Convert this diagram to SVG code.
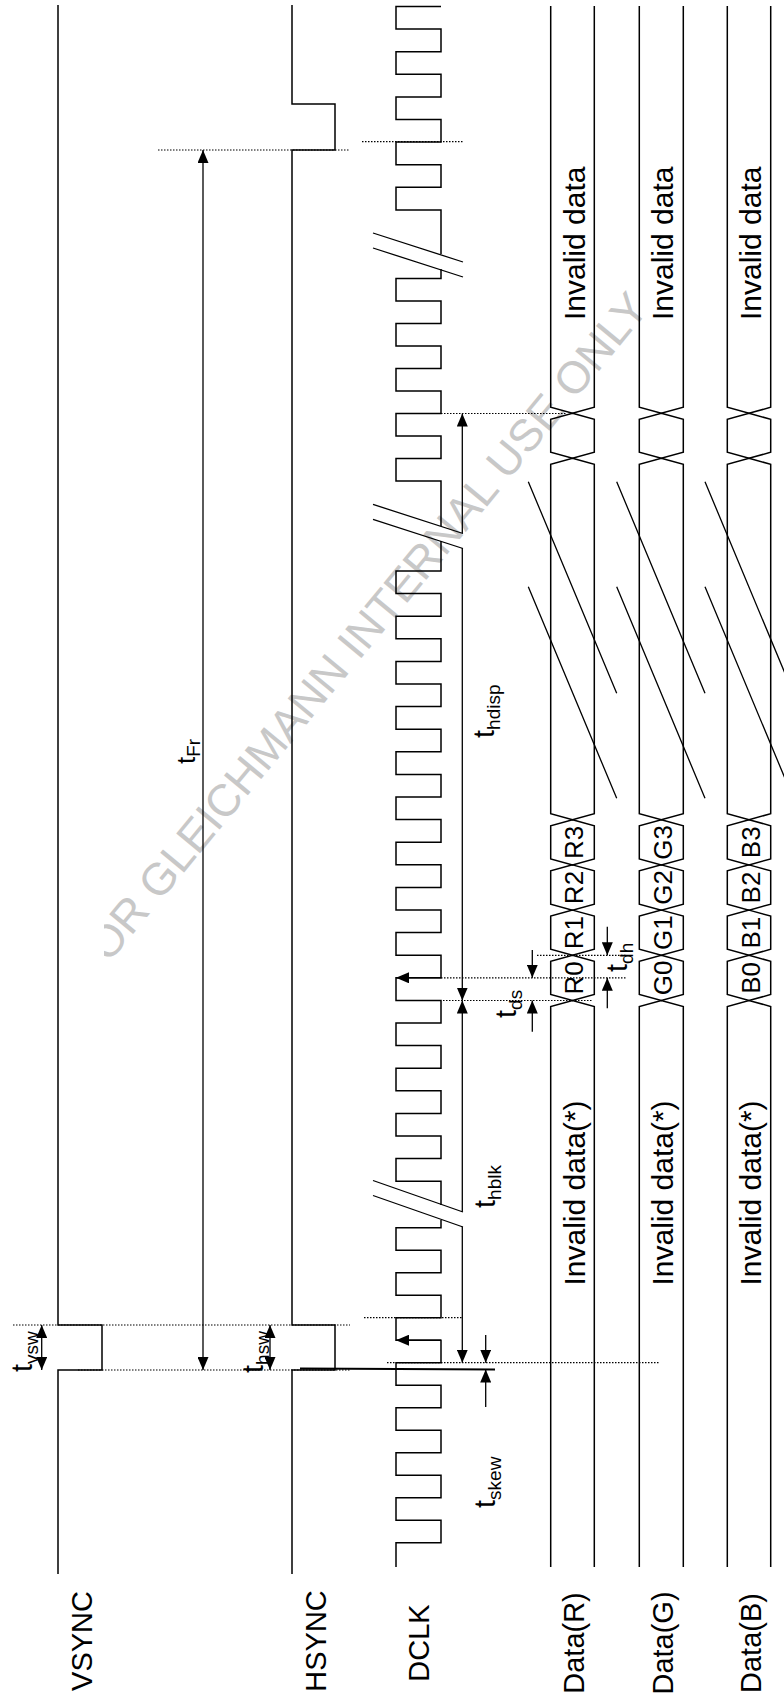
<svg xmlns="http://www.w3.org/2000/svg" width="784" height="1700" viewBox="0 0 784 1700">
<style>
.sig{fill:none;stroke:#000;stroke-width:1.5}
.arr{fill:none;stroke:#000;stroke-width:1.3}
.dot{fill:none;stroke:#000;stroke-width:1.2;stroke-dasharray:1.5 1.5}
.brk{fill:none;stroke:#000;stroke-width:1.3}
.lbl{font-family:"Liberation Sans",Arial,sans-serif;font-size:29px;fill:#000}
.cell{font-family:"Liberation Sans",Arial,sans-serif;font-size:26px;fill:#000}
.sub{font-size:19px}
.wm{font-family:"Liberation Sans",Arial,sans-serif;font-size:45px;fill:#c8c8c8}
</style>
<defs>
<marker id="ah" markerUnits="userSpaceOnUse" markerWidth="13" markerHeight="11" refX="13" refY="5.5" orient="auto-start-reverse">
<path d="M0,0 L13,5.5 L0,11 Z" fill="#000"/>
</marker>
<clipPath id="wmclip"><rect x="104" y="0" width="680" height="1700"/></clipPath>
</defs>
<rect width="784" height="1700" fill="#fff"/>

<g id="watermark" clip-path="url(#wmclip)">
<text class="wm" transform="translate(91,985) rotate(-50.4)">FOR GLEICHMANN INTERNAL USE ONLY</text>
</g>

<g id="vsync">
<path class="sig" d="M58,5 V1325 H102 V1370 H58 V1574"/>
<text class="lbl" text-anchor="middle" transform="translate(92,1641) rotate(-90)">VSYNC</text>
</g>

<g id="hsync">
<path class="sig" d="M292,5 V104 H335 V150 H292 V1325 H335 V1370 H292 V1574"/>
<text class="lbl" text-anchor="middle" transform="translate(326,1641) rotate(-90)">HSYNC</text>
</g>

<g id="dclk">
<path class="sig" d="M441,6.5 H396 V29.1 H441 V51.7 H396 V74.3 H441 V96.9 H396 V119.5 H441 V142.1 H396 V164.7 H441 V187.3 H396 V209.9 H441 V254"/>
<path class="sig" d="M441,269 V278.5 H396 V301 H441 V323.5 H396 V346 H441 V368.5 H396 V391 H441 V413.5 H396 V436 H441 V458.5 H396 V481 H441 V526"/>
<path class="sig" d="M441,541 V571 H396 V593.6 H441 V616.2 H396 V638.8 H441 V661.4 H396 V684 H441 V706.6 H396 V729.2 H441 V751.8 H396 V774.4 H441 V797 H396 V819.6 H441 V842.2 H396 V864.8 H441 V887.4 H396 V910 H441 V932.6 H396 V955.2 H441 V977.8 H396 V1000.4 H441 V1023 H396 V1045.6 H441 V1068.2 H396 V1090.8 H441 V1113.4 H396 V1136 H441 V1158.6 H396 V1181.2 H441 V1205"/>
<path class="sig" d="M441,1220 V1227.7 H396 V1250.2 H441 V1272.7 H396 V1295.2 H441 V1317.7 H396 V1340.2 H441 V1362.7 H396 V1385.2 H441 V1407.7 H396 V1430.2 H441 V1452.7 H396 V1475.2 H441 V1497.7 H396 V1520.2 H441 V1542.7 H396 V1567"/>
<text class="lbl" text-anchor="middle" transform="translate(429,1643) rotate(-90)">DCLK</text>
</g>

<g id="breaks">
<path class="brk" d="M373,233 L463,262 M373,248 L463,277"/>
<path class="brk" d="M373,504.4 L463,533.5 M373,519.4 L463,548.5"/>
<path class="brk" d="M373,1180.5 L463,1212 M373,1195.5 L463,1227"/>
<path class="brk" d="M528.3,481.7 L616.7,693.3 M528.3,586.7 L616.7,798.3"/>
<path class="brk" d="M616.7,481.7 L705,693.3 M616.7,586.7 L705,798.3"/>
<path class="brk" d="M705,481.7 L793.3,693.3 M705,586.7 L793.3,798.3"/>
</g>

<g id="data-r">
<path class="sig" d="M550.7,6 V407.3 L572.5,413.3 L594.3,407.3 V6"/>
<path class="sig" d="M572.5,413.3 L594.3,419.3 V452.3 L572.5,458.3 L550.7,452.3 V419.3 Z"/>
<path class="sig" d="M572.5,458.3 L594.3,464.3 V813.7 L572.5,819.7 L550.7,813.7 V464.3 Z"/>
<path class="sig" d="M572.5,819.7 L594.3,825.7 V858.9 L572.5,864.9 L550.7,858.9 V825.7 Z"/>
<path class="sig" d="M572.5,864.9 L594.3,870.9 V904.1 L572.5,910.1 L550.7,904.1 V870.9 Z"/>
<path class="sig" d="M572.5,910.1 L594.3,916.1 V949.3 L572.5,955.3 L550.7,949.3 V916.1 Z"/>
<path class="sig" d="M572.5,955.3 L594.3,961.3 V994.5 L572.5,1000.5 L550.7,994.5 V961.3 Z"/>
<path class="sig" d="M550.7,1567 V1006.5 L572.5,1000.5 L594.3,1006.5 V1567"/>
<text class="lbl" style="font-size:30px" text-anchor="middle" transform="translate(585,243.3) rotate(-90)">Invalid data</text>
<text class="lbl" style="font-size:30px" text-anchor="middle" transform="translate(585,1193) rotate(-90)">Invalid data(*)</text>
<text class="cell" text-anchor="middle" transform="translate(583,977.9) rotate(-90)">R0</text>
<text class="cell" text-anchor="middle" transform="translate(583,932.7) rotate(-90)">R1</text>
<text class="cell" text-anchor="middle" transform="translate(583,887.5) rotate(-90)">R2</text>
<text class="cell" text-anchor="middle" transform="translate(583,842.3) rotate(-90)">R3</text>
<text class="lbl" text-anchor="middle" transform="translate(584,1643) rotate(-90)">Data(R)</text>
</g>

<g id="data-g">
<path class="sig" d="M639.3,6 V407.3 L661.3,413.3 L683.3,407.3 V6"/>
<path class="sig" d="M661.3,413.3 L683.3,419.3 V452.3 L661.3,458.3 L639.3,452.3 V419.3 Z"/>
<path class="sig" d="M661.3,458.3 L683.3,464.3 V813.7 L661.3,819.7 L639.3,813.7 V464.3 Z"/>
<path class="sig" d="M661.3,819.7 L683.3,825.7 V858.9 L661.3,864.9 L639.3,858.9 V825.7 Z"/>
<path class="sig" d="M661.3,864.9 L683.3,870.9 V904.1 L661.3,910.1 L639.3,904.1 V870.9 Z"/>
<path class="sig" d="M661.3,910.1 L683.3,916.1 V949.3 L661.3,955.3 L639.3,949.3 V916.1 Z"/>
<path class="sig" d="M661.3,955.3 L683.3,961.3 V994.5 L661.3,1000.5 L639.3,994.5 V961.3 Z"/>
<path class="sig" d="M639.3,1567 V1006.5 L661.3,1000.5 L683.3,1006.5 V1567"/>
<text class="lbl" style="font-size:30px" text-anchor="middle" transform="translate(673.3,243.3) rotate(-90)">Invalid data</text>
<text class="lbl" style="font-size:30px" text-anchor="middle" transform="translate(673.3,1193) rotate(-90)">Invalid data(*)</text>
<text class="cell" text-anchor="middle" transform="translate(671.5,977.9) rotate(-90)">G0</text>
<text class="cell" text-anchor="middle" transform="translate(671.5,932.7) rotate(-90)">G1</text>
<text class="cell" text-anchor="middle" transform="translate(671.5,887.5) rotate(-90)">G2</text>
<text class="cell" text-anchor="middle" transform="translate(671.5,842.3) rotate(-90)">G3</text>
<text class="lbl" text-anchor="middle" transform="translate(672.5,1643) rotate(-90)">Data(G)</text>
</g>

<g id="data-b">
<path class="sig" d="M727.3,6 V407.3 L749,413.3 L770.7,407.3 V6"/>
<path class="sig" d="M749,413.3 L770.7,419.3 V452.3 L749,458.3 L727.3,452.3 V419.3 Z"/>
<path class="sig" d="M749,458.3 L770.7,464.3 V813.7 L749,819.7 L727.3,813.7 V464.3 Z"/>
<path class="sig" d="M749,819.7 L770.7,825.7 V858.9 L749,864.9 L727.3,858.9 V825.7 Z"/>
<path class="sig" d="M749,864.9 L770.7,870.9 V904.1 L749,910.1 L727.3,904.1 V870.9 Z"/>
<path class="sig" d="M749,910.1 L770.7,916.1 V949.3 L749,955.3 L727.3,949.3 V916.1 Z"/>
<path class="sig" d="M749,955.3 L770.7,961.3 V994.5 L749,1000.5 L727.3,994.5 V961.3 Z"/>
<path class="sig" d="M727.3,1567 V1006.5 L749,1000.5 L770.7,1006.5 V1567"/>
<text class="lbl" style="font-size:30px" text-anchor="middle" transform="translate(760.7,243.3) rotate(-90)">Invalid data</text>
<text class="lbl" style="font-size:30px" text-anchor="middle" transform="translate(760.7,1193) rotate(-90)">Invalid data(*)</text>
<text class="cell" text-anchor="middle" transform="translate(759.5,977.9) rotate(-90)">B0</text>
<text class="cell" text-anchor="middle" transform="translate(759.5,932.7) rotate(-90)">B1</text>
<text class="cell" text-anchor="middle" transform="translate(759.5,887.5) rotate(-90)">B2</text>
<text class="cell" text-anchor="middle" transform="translate(759.5,842.3) rotate(-90)">B3</text>
<text class="lbl" text-anchor="middle" transform="translate(761,1643) rotate(-90)">Data(B)</text>
</g>

<g id="connectors">
<path class="dot" d="M362,141.7 H463 M158,150 H350 M441,413.5 H567 M537,955.3 H627 M441,977.8 H627 M443,1000.5 H593 M364,1317.7 H462 M13,1325 H350 M387,1362.7 H660 M78,1370 H350"/>
<path class="arr" d="M41.7,1325 V1370" marker-start="url(#ah)" marker-end="url(#ah)"/>
<path class="arr" d="M270,1325 V1370" marker-start="url(#ah)" marker-end="url(#ah)"/>
<path class="arr" d="M203,150 V1370" marker-start="url(#ah)" marker-end="url(#ah)"/>
<path class="arr" d="M462.3,413.5 V533" marker-start="url(#ah)"/>
<path class="arr" d="M462.3,548 V1000.5" marker-end="url(#ah)"/>
<path class="arr" d="M462.3,1211.7 V1000.5" marker-end="url(#ah)"/>
<path class="arr" d="M462.3,1226.7 V1362.7" marker-end="url(#ah)"/>
<path class="arr" d="M441,977.8 H396" marker-end="url(#ah)"/>
<path class="arr" d="M441,1340.2 H396" marker-end="url(#ah)"/>
<path class="arr" d="M485.7,1335 V1362.7" marker-end="url(#ah)"/>
<path class="arr" d="M485.7,1407 V1369.5" marker-end="url(#ah)"/>
<path d="M300,1368.5 L495,1369.5" fill="none" stroke="#000" stroke-width="1.8"/>
<path class="arr" d="M532.3,950 V977.8" marker-end="url(#ah)"/>
<path class="arr" d="M532.3,1031.7 V1000.5" marker-end="url(#ah)"/>
<path class="arr" d="M607.3,926.7 V955.3" marker-end="url(#ah)"/>
<path class="arr" d="M607.3,1008.3 V977.8" marker-end="url(#ah)"/>
</g>

<g id="timing-labels">
<text class="lbl" transform="translate(32,1372) rotate(-90)">t<tspan class="sub" dy="6">vsw</tspan></text>
<text class="lbl" transform="translate(263,1373) rotate(-90)">t<tspan class="sub" dy="6">hsw</tspan></text>
<text class="lbl" style="font-size:26px" transform="translate(195,764) rotate(-90)">t<tspan style="font-size:19px" dy="5">Fr</tspan></text>
<text class="lbl" transform="translate(494,738) rotate(-90)">t<tspan class="sub" dy="6">hdisp</tspan></text>
<text class="lbl" transform="translate(495,1208) rotate(-90)">t<tspan class="sub" dy="6">hblk</tspan></text>
<text class="lbl" transform="translate(516,1018) rotate(-90)">t<tspan class="sub" dy="6">ds</tspan></text>
<text class="lbl" transform="translate(627,972) rotate(-90)">t<tspan class="sub" dy="6">dh</tspan></text>
<text class="lbl" transform="translate(495,1508) rotate(-90)">t<tspan class="sub" dy="6">skew</tspan></text>
</g>
</svg>
